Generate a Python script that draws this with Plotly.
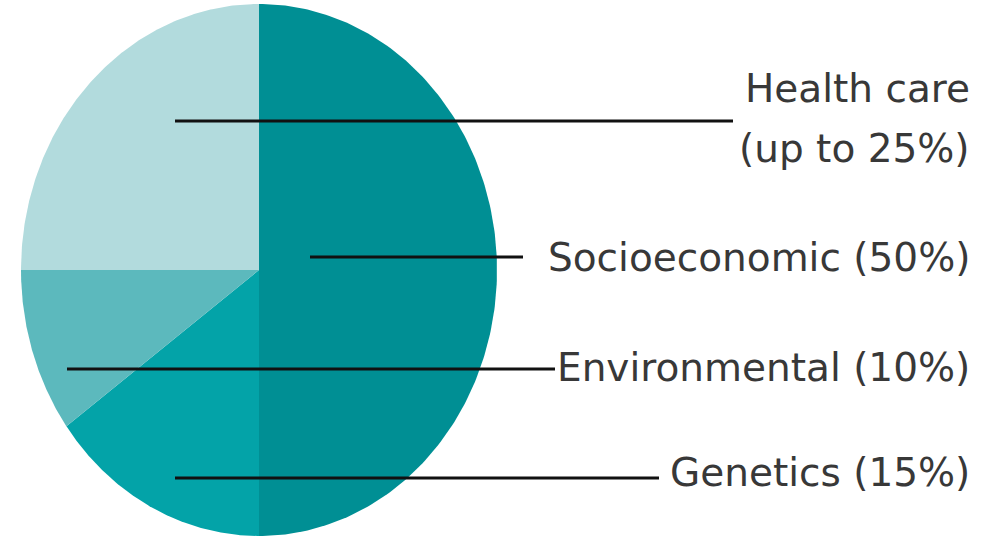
import numpy as np
import plotly.graph_objects as go

# ---- data ----
categories = ["Socioeconomic", "Genetics", "Environmental", "Health care"]
values = [50, 15, 10, 25]
label_lines = [["Socioeconomic (50%)"], ["Genetics (15%)"], ["Environmental (10%)"],
               ["Health care", "(up to 25%)"]]
colors = ["#008F94", "#03A3A8", "#5CB9BD", "#B2DBDD"]

# ---- layout constants (pixel space) ----
W, H = 993, 537
CX, CY, RX, RY = 259, 270, 238, 266
TEXT_RIGHT = 972
FONT = "DejaVu Sans"
FS = 39
# leader lines: (x_start, x_end, y) and text centre ys
leaders = [(310, 523, 257), (175, 659, 478), (67, 555, 369), (175, 733, 121)]
text_ys = [[257], [472], [367], [88, 148]]

fig = go.Figure()

total = sum(values)
start = 0.0
for cat, v, col in zip(categories, values, colors):
    a0 = start / total * 2 * np.pi
    a1 = (start + v) / total * 2 * np.pi
    t = np.linspace(a0, a1, 200)
    xs = np.concatenate([[CX], CX + RX * np.sin(t), [CX]])
    ys = np.concatenate([[CY], CY - RY * np.cos(t), [CY]])
    fig.add_trace(go.Scatter(x=xs, y=ys, fill="toself", fillcolor=col, mode="lines",
                             line=dict(width=0, color=col), name=cat, hoverinfo="name",
                             showlegend=False))
    start += v

shapes = []
annotations = []
for (x0, x1, y), lines, tys in zip(leaders, label_lines, text_ys):
    shapes.append(dict(type="line", x0=x0, x1=x1, y0=y, y1=y, xref="x", yref="y",
                       line=dict(color="#111111", width=3), layer="above"))
    for txt, ty in zip(lines, tys):
        annotations.append(dict(x=TEXT_RIGHT, y=ty, xref="x", yref="y", text=txt,
                                showarrow=False, xanchor="right", yanchor="middle",
                                font=dict(family=FONT, size=FS, color="#383838")))

fig.update_layout(
    width=W, height=H, margin=dict(l=0, r=0, t=0, b=0),
    paper_bgcolor="white", plot_bgcolor="white",
    xaxis=dict(range=[0, W], visible=False, fixedrange=True),
    yaxis=dict(range=[H, 0], visible=False, fixedrange=True),
    shapes=shapes, annotations=annotations, showlegend=False,
)
fig.write_html("out.html", config={"displayModeBar": False},
               post_script="document.body.style.margin='0';document.body.style.overflow='hidden';")
